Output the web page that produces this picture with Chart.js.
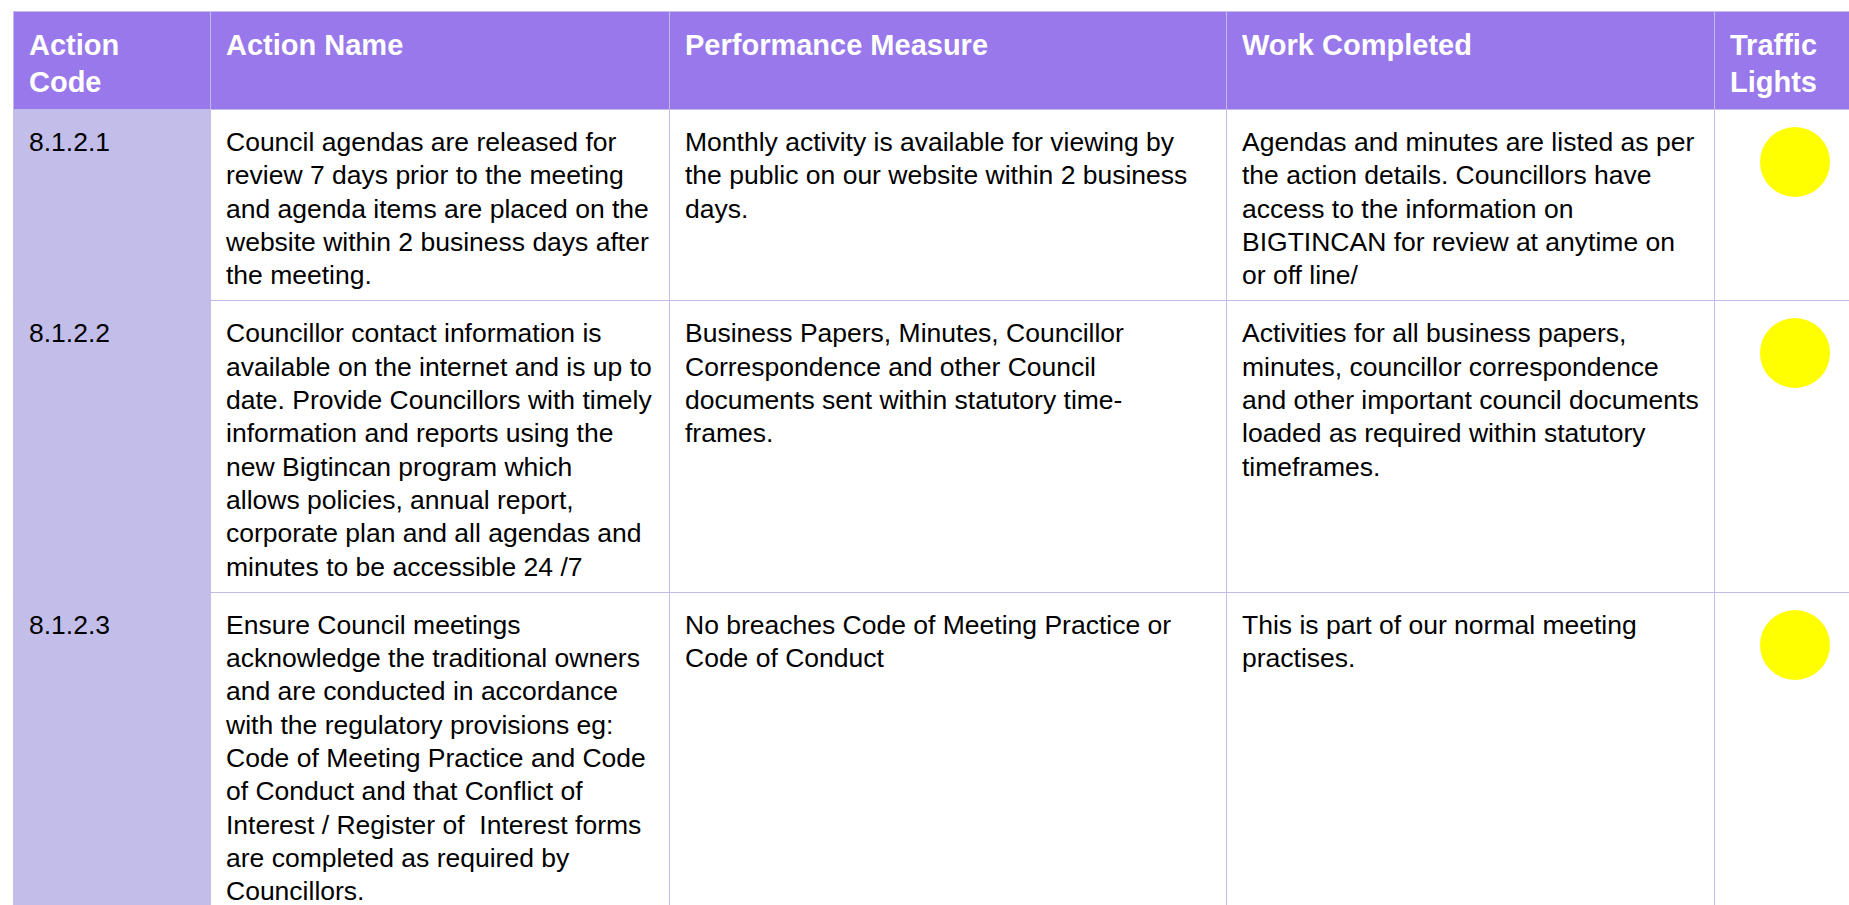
<!DOCTYPE html>
<html>
<head>
<meta charset="utf-8">
<title>Action Plan - Traffic Lights</title>
<script src="https://cdn.jsdelivr.net/npm/chart.js@4.4.1/dist/chart.umd.min.js"></script>
<style>
  html, body {
    margin: 0;
    padding: 0;
    background: #ffffff;
    overflow: hidden;
    width: 1849px;
    height: 905px;
  }
  table {
    position: absolute;
    left: 13px;
    top: 11px;
    width: 1921px;
    border-collapse: collapse;
    table-layout: fixed;
    font-family: "Liberation Sans", Arial, sans-serif;
    color: #000;
  }
  th, td {
    border: 1px solid #c2bbea;
    vertical-align: top;
    text-align: left;
    white-space: pre;
  }
  th {
    background: #9878ea;
    color: #fff;
    font-weight: bold;
    font-size: 29px;
    line-height: 36.5px;
    padding: 15px 15px 9px 15px;
  }
  td {
    font-size: 26.5px;
    line-height: 33.3px;
    padding: 16px 15px 8px 15px;
  }
  td.code { background: #c3bee9; }
  td.light { padding: 0; }
  td.light canvas { display: block; }
</style>
</head>
<body>
<table id="tbl">
  <colgroup>
    <col style="width:197px">
    <col style="width:459px">
    <col style="width:557px">
    <col style="width:488px">
    <col style="width:220px">
  </colgroup>
  <thead><tr id="head"></tr></thead>
  <tbody id="rows"></tbody>
</table>
<script>
// Cabeçalhos (quebras de linha como no original)
const headers = ['Action\nCode', 'Action Name', 'Performance Measure', 'Work Completed', 'Traffic\nLights'];

const codes = ['8.1.2.1', '8.1.2.2', '8.1.2.3'];

const actionNames = [
  'Council agendas are released for\nreview 7 days prior to the meeting\nand agenda items are placed on the\nwebsite within 2 business days after\nthe meeting.',
  'Councillor contact information is\navailable on the internet and is up to\ndate. Provide Councillors with timely\ninformation and reports using the\nnew Bigtincan program which\nallows policies, annual report,\ncorporate plan and all agendas and\nminutes to be accessible 24 /7',
  'Ensure Council meetings\nacknowledge the traditional owners\nand are conducted in accordance\nwith the regulatory provisions eg:\nCode of Meeting Practice and Code\nof Conduct and that Conflict of\nInterest / Register of  Interest forms\nare completed as required by\nCouncillors.'
];

const measures = [
  'Monthly activity is available for viewing by\nthe public on our website within 2 business\ndays.',
  'Business Papers, Minutes, Councillor\nCorrespondence and other Council\ndocuments sent within statutory time-\nframes.',
  'No breaches Code of Meeting Practice or\nCode of Conduct'
];

const workDone = [
  'Agendas and minutes are listed as per\nthe action details. Councillors have\naccess to the information on\nBIGTINCAN for review at anytime on\nor off line/',
  'Activities for all business papers,\nminutes, councillor correspondence\nand other important council documents\nloaded as required within statutory\ntimeframes.',
  'This is part of our normal meeting\npractises.'
];

// Status de cada ação
const lights = ['amber', 'amber', 'amber'];
const lightColors = { green: '#00b050', amber: '#ffff00', red: '#ff0000' };

// Montar cabeçalho
const headRow = document.getElementById('head');
headers.forEach(h => {
  const th = document.createElement('th');
  th.textContent = h;
  headRow.appendChild(th);
});

// Montar linhas
const tbody = document.getElementById('rows');
codes.forEach((code, i) => {
  const tr = document.createElement('tr');
  [code, actionNames[i], measures[i], workDone[i]].forEach((txt, j) => {
    const td = document.createElement('td');
    if (j === 0) td.className = 'code';
    td.textContent = txt;
    tr.appendChild(td);
  });
  const tdLight = document.createElement('td');
  tdLight.className = 'light';
  const cv = document.createElement('canvas');
  cv.width = 160;
  cv.height = 104;
  cv.style.width = '160px';
  cv.style.height = '104px';
  tdLight.appendChild(cv);
  tr.appendChild(tdLight);
  tbody.appendChild(tr);

  // Semáforo desenhado pelo Chart.js
  new Chart(cv.getContext('2d'), {
    type: 'scatter',
    data: {
      labels: [code],
      datasets: [{
        label: code,
        data: [{ x: code, y: 1 }],
        backgroundColor: lightColors[lights[i]],
        borderWidth: 0,
        pointRadius: 35,
        pointHoverRadius: 35,
        clip: false
      }]
    },
    options: {
      responsive: false,
      animation: false,
      events: [],
      layout: { padding: 0 },
      plugins: { legend: { display: false }, tooltip: { enabled: false } },
      scales: {
        x: { type: 'category', display: false, offset: true },
        y: { display: false, min: 0, max: 2 }
      }
    }
  });
});
</script>
</body>
</html>
